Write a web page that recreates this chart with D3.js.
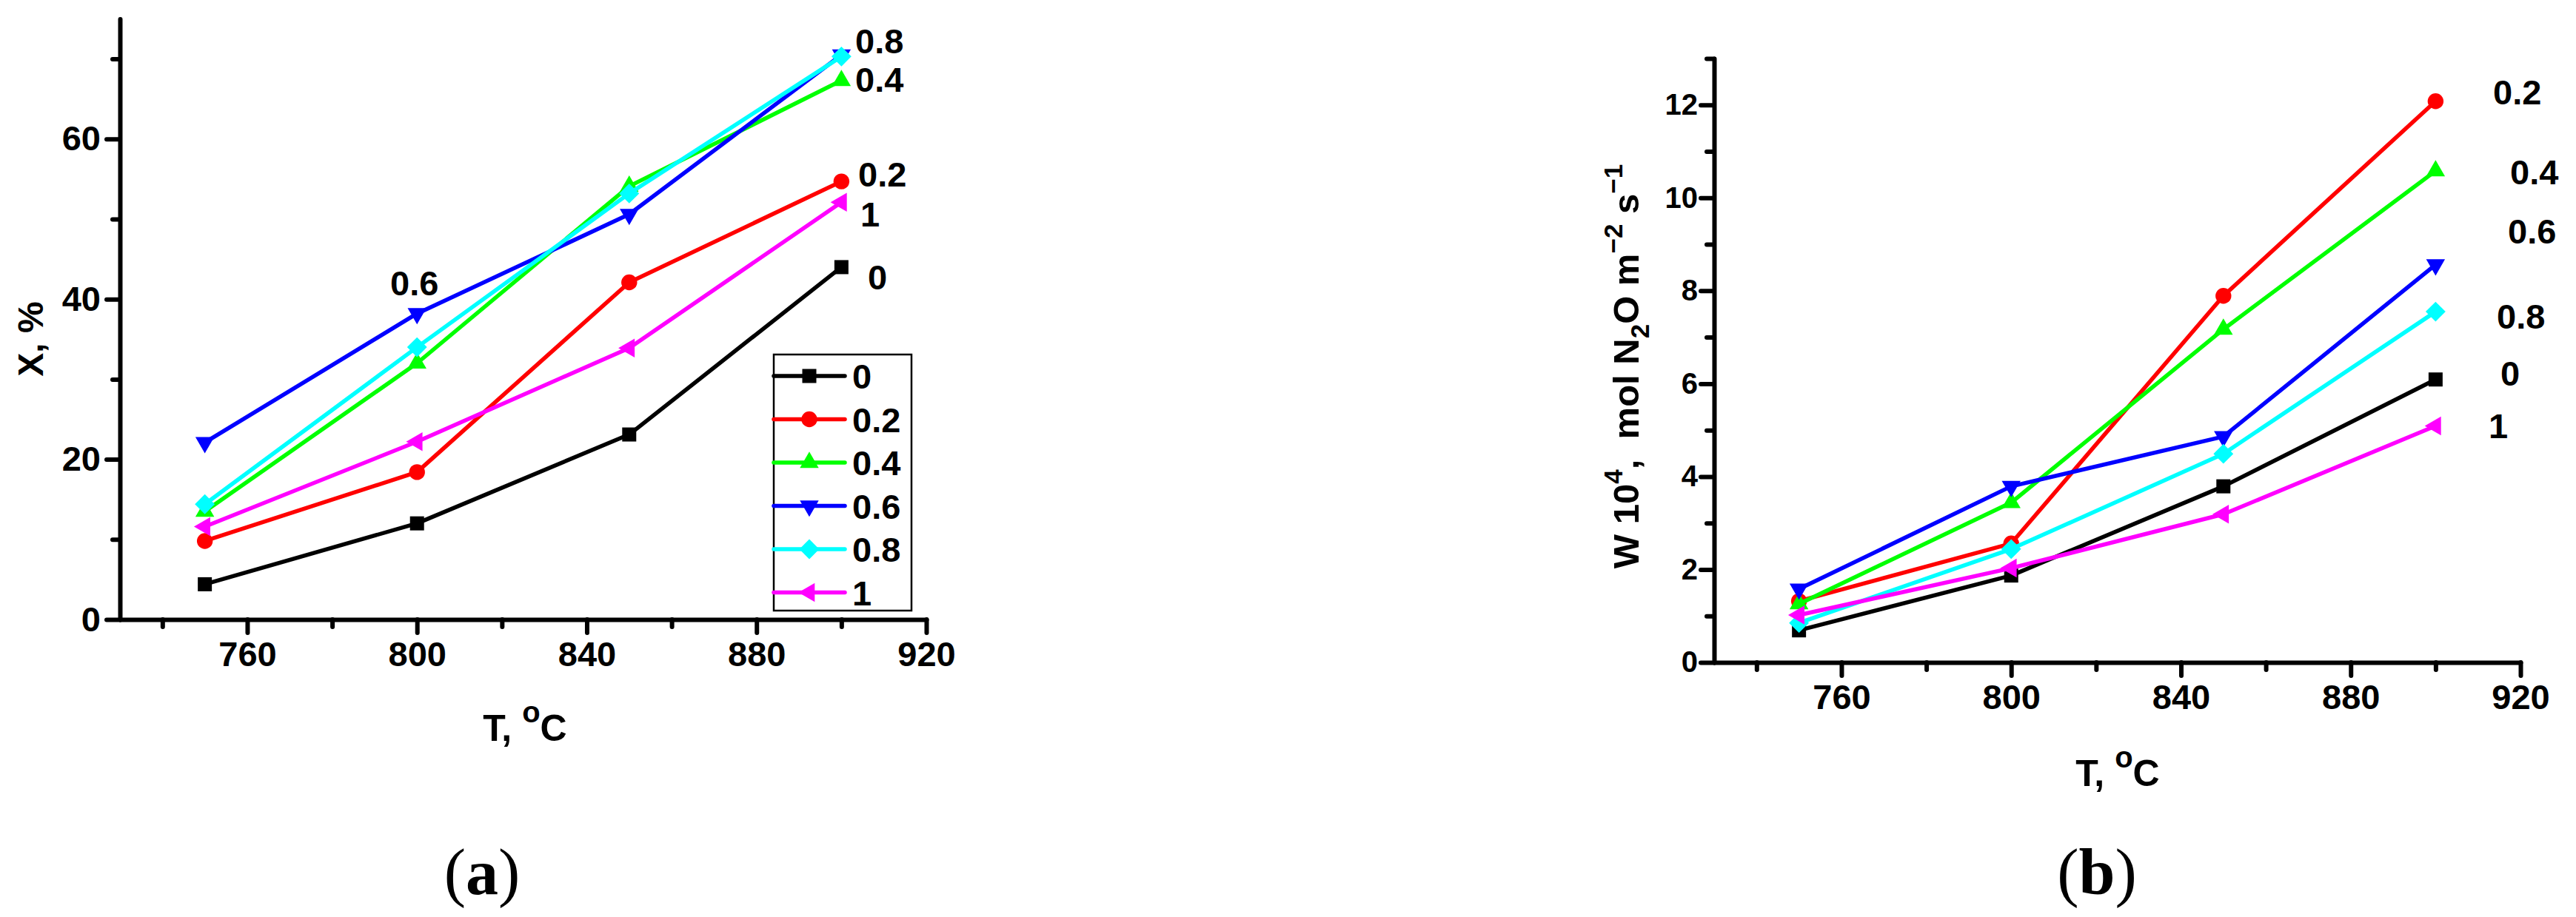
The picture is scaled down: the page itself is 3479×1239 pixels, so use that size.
<!DOCTYPE html>
<html>
<head>
<meta charset="utf-8">
<title>N2O conversion and rate vs temperature</title>
<script src="https://cdn.jsdelivr.net/npm/d3@7"></script>
<style>
  body { margin: 0; background: #fff; }
  svg { display: block; }
  .tick text, .lbl { font-family: "Liberation Sans", Arial, sans-serif; font-weight: bold; fill: #000; }
  .cap { font-family: "Liberation Serif", "Times New Roman", serif; fill: #000; }
</style>
</head>
<body>
<script>
// temperatures, oC
const temps = [750, 800, 850, 900];
const seriesNames = ["0", "0.2", "0.4", "0.6", "0.8", "1"];

// (a) conversion X, %
const convA0  = [4.4, 12.0, 23.1, 44.0];
const convA02 = [9.8, 18.4, 42.1, 54.7];
const convA04 = [13.5, 32.0, 54.1, 67.3];
const convA06 = [22.1, 38.2, 50.6, 70.5];
const convA08 = [14.4, 34.0, 53.2, 70.3];
const convA1  = [11.6, 22.2, 33.9, 52.1];

// (b) rate W 10^4, mol N2O m-2 s-1
const rateB0  = [0.69, 1.87, 3.79, 6.09];
const rateB02 = [1.32, 2.56, 7.89, 12.08];
const rateB04 = [1.26, 3.44, 7.17, 10.58];
const rateB06 = [1.58, 3.79, 4.86, 8.56];
const rateB08 = [0.85, 2.44, 4.49, 7.55];
const rateB1  = [1.02, 2.03, 3.19, 5.09];

// ticks
const xMajor = [760, 800, 840, 880, 920];
const xMinor = [740, 780, 820, 860, 900];
const yMajorA = [0, 20, 40, 60];
const yMinorA = [10, 30, 50, 70];
const yMajorB = [0, 2, 4, 6, 8, 10, 12];
const yMinorB = [1, 3, 5, 7, 9, 11, 13];

const colors = ["#000000", "#ff0000", "#00ff00", "#0000ff", "#00ffff", "#ff00ff"];
const shapes = ["square", "circle", "up", "down", "diamond", "left"];

const W = 3479, H = 1239;
const svg = d3.select("body").append("svg")
  .attr("width", W).attr("height", H)
  .attr("viewBox", `0 0 ${W} ${H}`);

function markerOf(shape) {
  if (shape === "square") return { d: d3.symbol(d3.symbolSquare, 361)(), rot: 0 };
  if (shape === "circle") return { d: d3.symbol(d3.symbolCircle, 360)(), rot: 0 };
  if (shape === "up") return { d: d3.symbol(d3.symbolTriangle, 280)(), rot: 0 };
  if (shape === "down") return { d: d3.symbol(d3.symbolTriangle, 280)(), rot: 180 };
  if (shape === "left") return { d: d3.symbol(d3.symbolTriangle, 280)(), rot: -90 };
  return { d: d3.symbol(d3.symbolSquare, 361)(), rot: 45 };
}

function styleAxis(sel, fontSize) {
  sel.select(".domain").attr("stroke-width", 6).attr("stroke-linecap", "round");
  sel.selectAll(".tick line").attr("stroke-width", 6).attr("stroke-linecap", "round");
  sel.selectAll(".tick text").attr("font-size", fontSize);
}

function drawPanel(p) {
  const x = d3.scaleLinear().domain([730, 920]).range([p.left, p.right]);
  const y = d3.scaleLinear().domain([0, p.yMax]).range([p.bottom, p.top]);

  // minor ticks first
  const gxm = svg.append("g").attr("transform", `translate(0,${p.bottom})`)
    .call(d3.axisBottom(x).tickValues(xMinor).tickSize(10).tickFormat(""));
  gxm.select(".domain").remove();
  styleAxis(gxm, 0);
  const gym = svg.append("g").attr("transform", `translate(${p.left},0)`)
    .call(d3.axisLeft(y).tickValues(p.yMinor).tickSize(10).tickFormat(""));
  gym.select(".domain").remove();
  styleAxis(gym, 0);

  const gx = svg.append("g").attr("transform", `translate(0,${p.bottom})`)
    .call(d3.axisBottom(x).tickValues(xMajor).tickSize(18).tickSizeOuter(0).tickPadding(12));
  styleAxis(gx, 47);
  const gy = svg.append("g").attr("transform", `translate(${p.left},0)`)
    .call(d3.axisLeft(y).tickValues(p.yMajor).tickSize(18).tickSizeOuter(0).tickPadding(p.yPad));
  styleAxis(gy, p.yFont);

  const line = d3.line().x((d, i) => x(temps[i])).y(d => y(d));
  p.series.forEach((vals, k) => {
    svg.append("path").datum(vals)
      .attr("d", line)
      .attr("fill", "none")
      .attr("stroke", colors[k])
      .attr("stroke-width", 5.5)
      .attr("stroke-linejoin", "round");
    const m = markerOf(shapes[k]);
    svg.append("g").selectAll("path").data(vals).join("path")
      .attr("transform", (d, i) => `translate(${x(temps[i])},${y(d)}) rotate(${m.rot})`)
      .attr("d", m.d)
      .attr("fill", colors[k]);
  });
  return { x, y };
}

// ---------- panel (a)
drawPanel({
  left: 162, right: 1251, top: 25.5, bottom: 837, yMax: 75,
  yMajor: yMajorA, yMinor: yMinorA, yFont: 47, yPad: 8,
  series: [convA0, convA02, convA04, convA06, convA08, convA1]
});

// ---------- panel (b)
drawPanel({
  left: 2315, right: 3404, top: 79, bottom: 895, yMax: 13,
  yMajor: yMajorB, yMinor: yMinorB, yFont: 40, yPad: 4,
  series: [rateB0, rateB02, rateB04, rateB06, rateB08, rateB1]
});

// end-of-line labels
const labelsA = [["0.8", 1155, 72], ["0.4", 1155, 124], ["0.2", 1159, 252], ["1", 1162, 306], ["0", 1172, 391], ["0.6", 527, 399]];
const labelsB = [["0.2", 3367, 141], ["0.4", 3390, 249], ["0.6", 3387, 329], ["0.8", 3372, 444], ["0", 3377, 521], ["1", 3361, 592]];
svg.append("g").selectAll("text").data(labelsA.concat(labelsB)).join("text")
  .attr("class", "lbl").attr("font-size", 47)
  .attr("x", d => d[1]).attr("y", d => d[2])
  .text(d => d[0]);

// legend (a)
const leg = svg.append("g");
leg.append("rect").attr("x", 1045).attr("y", 479).attr("width", 186).attr("height", 346)
  .attr("fill", "none").attr("stroke", "#000").attr("stroke-width", 2.5);
seriesNames.forEach((name, k) => {
  const ry = 508 + k * 58.5;
  leg.append("line").attr("x1", 1045).attr("x2", 1141).attr("y1", ry).attr("y2", ry)
    .attr("stroke", colors[k]).attr("stroke-width", 5.5).attr("stroke-linecap", "round");
  const m = markerOf(shapes[k]);
  leg.append("path").attr("d", m.d).attr("fill", colors[k])
    .attr("transform", `translate(1093,${ry}) rotate(${m.rot})`);
  leg.append("text").attr("class", "lbl").attr("font-size", 47)
    .attr("x", 1151).attr("y", ry + 17).text(name);
});

// axis titles
function tTitle(cx, by) {
  const t = svg.append("text").attr("class", "lbl").attr("font-size", 50)
    .attr("text-anchor", "middle").attr("x", cx).attr("y", by);
  t.append("tspan").text("T, ");
  t.append("tspan").attr("font-size", 40).attr("dy", -25).text("o");
  t.append("tspan").attr("dy", 25).text("C");
}
tTitle(709, 1001);
tTitle(2860, 1062);

svg.append("text").attr("class", "lbl").attr("font-size", 48)
  .attr("text-anchor", "middle")
  .attr("transform", "translate(58,458) rotate(-90)")
  .text("X, %");

const wt = svg.append("text").attr("class", "lbl").attr("font-size", 49)
  .attr("text-anchor", "middle").style("white-space", "pre")
  .attr("transform", "translate(2213,495) rotate(-90)");
wt.append("tspan").text("W 10");
wt.append("tspan").attr("font-size", 35).attr("dy", -22).text("4");
wt.append("tspan").attr("dy", 22).text(",  mol N");
wt.append("tspan").attr("font-size", 35).attr("dy", 14).text("2");
wt.append("tspan").attr("dy", -14).text("O m");
wt.append("tspan").attr("font-size", 35).attr("dy", -22).text("\u22122");
wt.append("tspan").attr("dy", 22).text(" s");
wt.append("tspan").attr("font-size", 35).attr("dy", -22).text("\u22121");

// panel captions
function caption(cx, letter) {
  const t = svg.append("text").attr("class", "cap").attr("font-size", 88)
    .attr("text-anchor", "middle").attr("x", cx).attr("y", 1208);
  t.append("tspan").text("(");
  t.append("tspan").attr("font-weight", "bold").text(letter);
  t.append("tspan").text(")");
}
caption(651, "a");
caption(2832, "b");
</script>
</body>
</html>
